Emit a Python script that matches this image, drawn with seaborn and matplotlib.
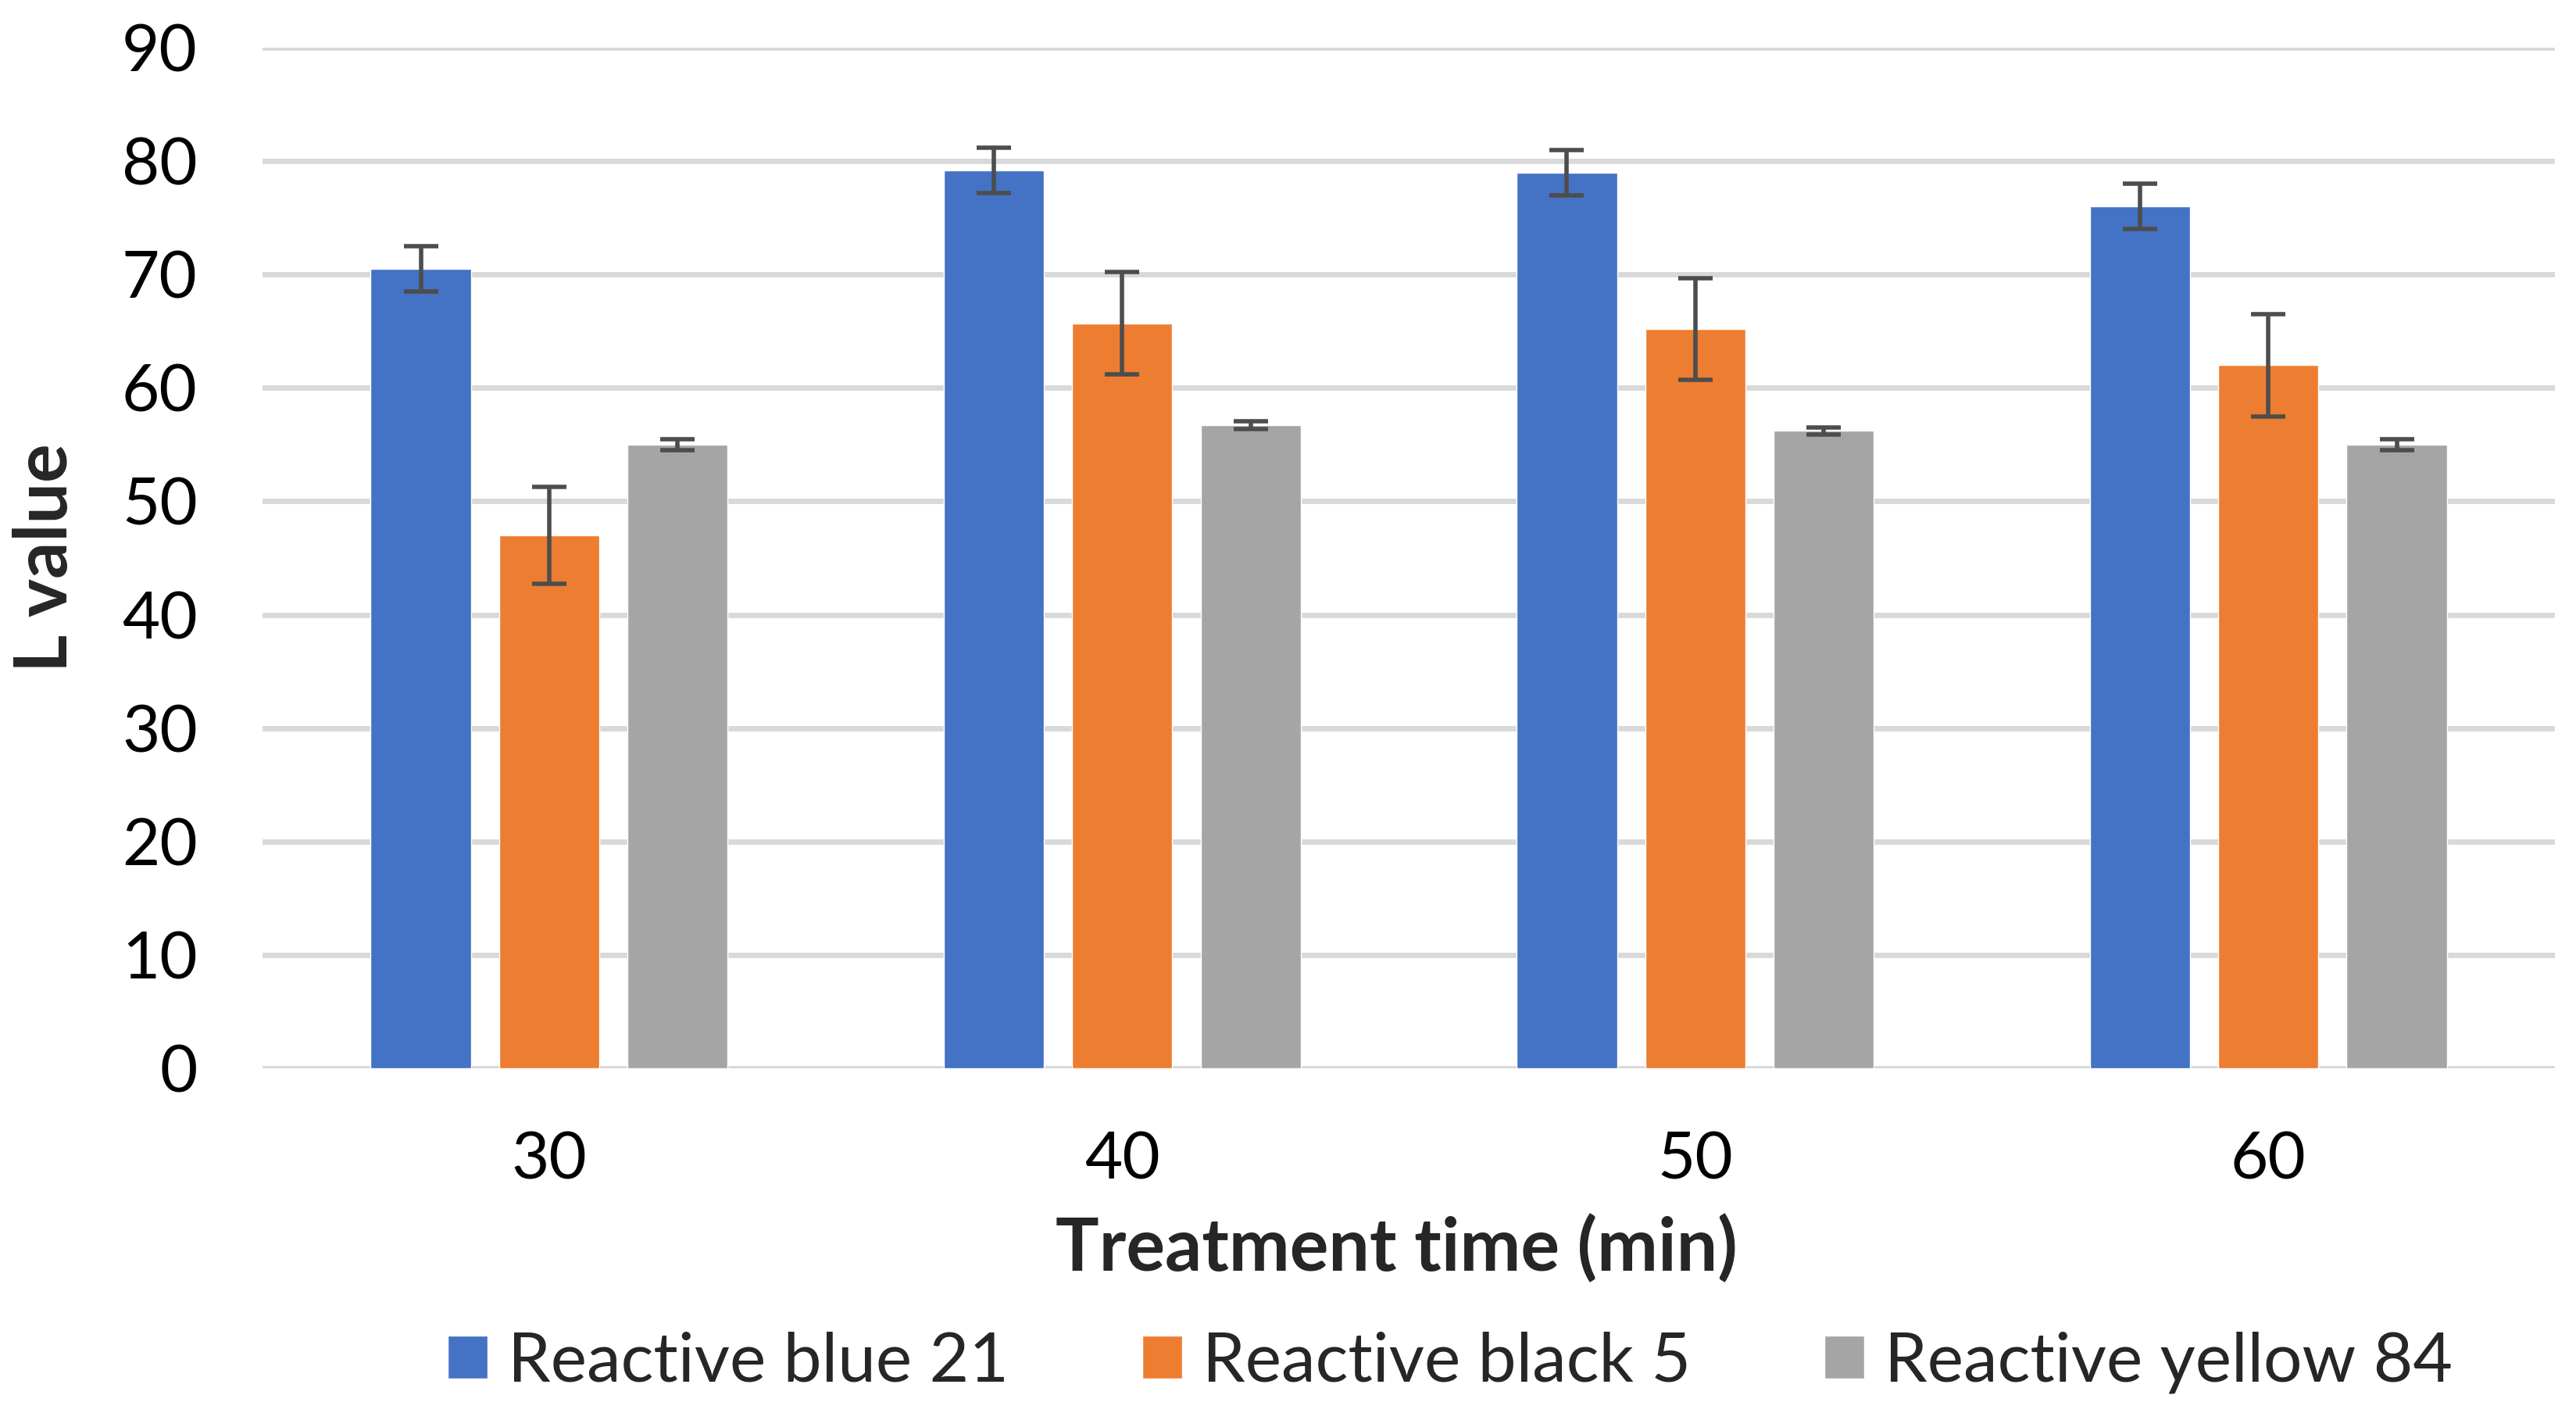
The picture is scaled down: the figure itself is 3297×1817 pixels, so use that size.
import matplotlib
matplotlib.use("Agg")
import matplotlib.pyplot as plt
import seaborn as sns
import pandas as pd
import numpy as np

times = ["30", "40", "50", "60"]
dyes = ["Reactive blue 21", "Reactive black 5", "Reactive yellow 84"]
blue21 = [70.5, 79.2, 79.0, 76.0]
black5 = [47.0, 65.7, 65.2, 62.0]
yellow84 = [55.0, 56.7, 56.2, 55.0]
blue21_err = [2.0, 2.0, 2.0, 2.0]
black5_err = [4.3, 4.5, 4.5, 4.5]
yellow84_err = [0.5, 0.35, 0.3, 0.5]
colors = ["#4472C4", "#ED7D31", "#A5A5A5"]

sns.set_theme(style="white")
plt.rcParams["font.family"] = ["Lato", "DejaVu Sans"]

values = [blue21, black5, yellow84]
errors = [blue21_err, black5_err, yellow84_err]
rows = []
for d, vals in zip(dyes, values):
    for t, v in zip(times, vals):
        rows.append({"time": t, "dye": d, "value": v})
df = pd.DataFrame(rows)

fig = plt.figure(figsize=(32.98, 18.17), dpi=100)
ax = fig.add_axes([0.1019, 0.2477, 0.8896, 0.7187])

sns.barplot(data=df, x="time", y="value", hue="dye", hue_order=dyes,
            order=times, palette=colors, width=0.672, gap=0.22,
            errorbar=None, saturation=1, ax=ax, zorder=2)

bar_containers = list(ax.containers)
for hi, cont in enumerate(bar_containers):
    xs = [b.get_x() + b.get_width() / 2 for b in cont]
    ys = [b.get_height() for b in cont]
    ax.errorbar(xs, ys, yerr=errors[hi], fmt="none", ecolor="#4d4d4d",
                elinewidth=4, capsize=16, capthick=4, zorder=3)

ax.set_ylim(0, 90)
ax.set_xlim(-0.5, 3.5)
ax.set_yticks(range(0, 91, 10))
ax.yaxis.grid(True, color="#D9D9D9", linewidth=5, zorder=0)
ax.set_axisbelow(True)
for s in ax.spines.values():
    s.set_visible(False)
ax.tick_params(axis="both", length=0, labelsize=60, colors="black")
ax.tick_params(axis="y", pad=60)
ax.tick_params(axis="x", pad=58)

ax.set_xlabel("Treatment time (min)", fontsize=67, fontweight="bold")
ax.set_ylabel("L value", fontsize=67, fontweight="bold")
ax.xaxis.set_label_coords(0.4948, -0.177)
ax.xaxis.label.set_va("center")
ax.yaxis.set_label_coords(-0.0944, 0.5)
ax.yaxis.label.set_va("center")

handles, labels = ax.get_legend_handles_labels()
if ax.get_legend() is not None:
    ax.get_legend().remove()
fig.legend(handles, labels, loc="center", bbox_to_anchor=(1856 / 3298, 0.0407),
           ncol=3, frameon=False, fontsize=63, handlelength=0.58,
           handleheight=0.6, handletextpad=0.3, columnspacing=1.95)

fig.savefig("out.png", dpi=100, facecolor="white")
